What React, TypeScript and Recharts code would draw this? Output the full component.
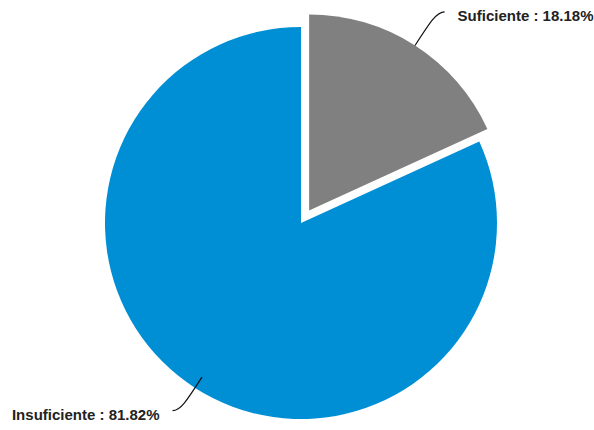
import React from 'react';
import { PieChart, Pie, Cell } from 'recharts';

const categories = ['Suficiente', 'Insuficiente'];
const percentages = [18.18, 81.82];
const colors = ['#808080', '#008fd5'];

const data = categories.map((name, i) => ({ name, value: percentages[i] }));

const RADIAN = Math.PI / 180;
const CX = 301;
const CY = 223;
const R = 196;
const EXPLODE = 15;

// the first slice is pulled out along its middle angle
const total = percentages.reduce((a, b) => a + b, 0);
const firstMid = 90 - (percentages[0] / total) * 180;
const dx = EXPLODE * Math.cos(firstMid * RADIAN);
const dy = -EXPLODE * Math.sin(firstMid * RADIAN);

// how far inside the edge each connector starts
const lineInset = [0, 13];

const makeLabel = (showIndex: number) => (props: any) => {
  const { cx, cy, midAngle, outerRadius, index, name, value } = props;
  if (index !== showIndex) return null;
  const cos = Math.cos(-midAngle * RADIAN);
  const sin = Math.sin(-midAngle * RADIAN);
  const r = outerRadius - lineInset[index];
  const sx = cx + r * cos;
  const sy = cy + r * sin;
  const sign = cos >= 0 ? 1 : -1;
  const ex = sx + cos * 38 + sign * 9;
  const ey = sy + sin * 40;
  const c1x = sx + cos * 28;
  const c1y = sy + sin * 28;
  const c2x = ex - sign * 8;
  const d = `M${sx},${sy} C${c1x},${c1y} ${c2x},${ey} ${ex},${ey}`;
  return (
    <g>
      <path d={d} stroke="#111" strokeWidth={1.2} fill="none" />
      <text
        x={ex + sign * 13}
        y={ey + 4}
        textAnchor={sign > 0 ? 'start' : 'end'}
        dominantBaseline="central"
        fill="#222"
        style={{ fontFamily: '"Liberation Sans", Arial, sans-serif', fontSize: 15, fontWeight: 'bold' }}
      >
        {`${name} : ${value.toFixed(2)}%`}
      </text>
    </g>
  );
};

export default function App() {
  return (
    <div style={{ position: 'absolute', left: 0, top: 0, background: '#fff' }}>
      <PieChart width={594} height={430} margin={{ top: 0, right: 0, bottom: 0, left: 0 }}>
        <Pie
          data={data}
          dataKey="value"
          nameKey="name"
          cx={CX}
          cy={CY}
          outerRadius={R}
          startAngle={90}
          endAngle={-270}
          stroke="none"
          labelLine={false}
          label={makeLabel(1)}
          isAnimationActive={false}
        >
          {data.map((d, i) => (
            <Cell key={d.name} fill={i === 1 ? colors[i] : 'none'} stroke="none" />
          ))}
        </Pie>
        <Pie
          data={data}
          dataKey="value"
          nameKey="name"
          cx={CX + dx}
          cy={CY + dy}
          outerRadius={R}
          startAngle={90}
          endAngle={-270}
          stroke="none"
          labelLine={false}
          label={makeLabel(0)}
          isAnimationActive={false}
        >
          {data.map((d, i) => (
            <Cell key={d.name} fill={i === 0 ? colors[i] : 'none'} stroke="none" />
          ))}
        </Pie>
      </PieChart>
    </div>
  );
}
